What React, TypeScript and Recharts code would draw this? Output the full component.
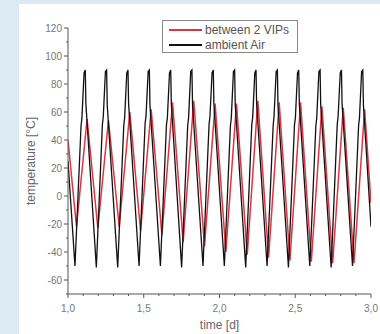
import React from 'react';
import { LineChart, Line, XAxis, YAxis, Legend } from 'recharts';

// ambient air (black) - time in days, temperature in °C
const ambientTime = [
  1.0, 1.046, 1.086, 1.092, 1.106, 1.114, 1.118,
  1.187, 1.227, 1.233, 1.247, 1.255, 1.259,
  1.328, 1.368, 1.374, 1.388, 1.396, 1.4,
  1.469, 1.509, 1.515, 1.529, 1.537, 1.541,
  1.61, 1.65, 1.656, 1.67, 1.678, 1.682,
  1.75, 1.79, 1.796, 1.81, 1.818, 1.822,
  1.891, 1.931, 1.937, 1.951, 1.959, 1.963,
  2.032, 2.072, 2.078, 2.092, 2.1, 2.104,
  2.173, 2.213, 2.219, 2.233, 2.241, 2.245,
  2.314, 2.354, 2.36, 2.374, 2.382, 2.386,
  2.455, 2.495, 2.501, 2.515, 2.523, 2.527,
  2.596, 2.636, 2.642, 2.656, 2.664, 2.668,
  2.737, 2.777, 2.783, 2.797, 2.805, 2.809,
  2.878, 2.918, 2.924, 2.938, 2.946, 2.95,
  3.0,
];
const ambientTemp = [
  25, -50, 50, 56, 88, 90, 66,
  -51, 51, 57, 89, 90, 65,
  -51, 50, 56, 88, 90, 66,
  -50, 52, 57, 89, 90, 65,
  -50, 51, 56, 88, 90, 66,
  -51, 50, 56, 89, 90, 65,
  -50, 51, 57, 88, 90, 66,
  -50, 50, 56, 89, 90, 65,
  -51, 51, 56, 88, 90, 66,
  -50, 50, 57, 89, 90, 65,
  -51, 51, 56, 88, 90, 66,
  -50, 50, 56, 89, 90, 65,
  -51, 51, 57, 88, 90, 66,
  -50, 50, 56, 89, 90, 65,
  -22,
];

// between 2 VIPs (red)
const vipTime = [
  1.0, 1.056, 1.126, 1.197, 1.267, 1.338, 1.408, 1.479, 1.549, 1.62, 1.69,
  1.76, 1.83, 1.901, 1.971, 2.042, 2.112, 2.183, 2.253, 2.324, 2.394,
  2.465, 2.535, 2.606, 2.676, 2.747, 2.817, 2.888, 2.958, 3.0,
];
const vipTemp = [
  40, -22, 55, -23, 54, -22, 60, -25, 62, -28, 67,
  -33, 68, -36, 66, -40, 66, -42, 68, -44, 67,
  -46, 67, -47, 64, -48, 63, -48, 62, -5,
];

const seriesNames = ['between 2 VIPs', 'ambient Air'];
const seriesColors = ['#e2333f', '#111111'];

const xTicks = [
  1.0, 1.1, 1.2, 1.3, 1.4, 1.5, 1.6, 1.7, 1.8, 1.9, 2.0,
  2.1, 2.2, 2.3, 2.4, 2.5, 2.6, 2.7, 2.8, 2.9, 3.0,
];
const yTicks = [-70, -60, -50, -40, -30, -20, -10, 0, 10, 20, 30, 40, 50, 60, 70, 80, 90, 100, 110, 120];

const ambientData = ambientTime.map((t, i) => ({ t, v: ambientTemp[i] }));
const vipData = vipTime.map((t, i) => ({ t, v: vipTemp[i] }));

const FONT = '"Liberation Sans", Arial, sans-serif';
const AXIS = '#555';

// y ticks: long ones with labels every 20, short ones between
const YTick = (props: any) => {
  const { x, y, payload } = props;
  const major = payload.value % 20 === 0;
  return (
    <g>
      <line x1={x - (major ? 4 : 2)} x2={x} y1={y} y2={y} stroke={AXIS} />
      {major && (
        <text x={x - 6} y={y} dy={3.5} textAnchor="end" fontSize={10} fill="#777" fontFamily={FONT}>
          {payload.value}
        </text>
      )}
    </g>
  );
};

const XTick = (props: any) => {
  const { x, y, payload } = props;
  const v = payload.value;
  const major = Math.abs(v * 2 - Math.round(v * 2)) < 1e-6;
  return (
    <g>
      <line x1={x} x2={x} y1={y} y2={y + (major ? 4 : 2)} stroke={AXIS} />
      {major && (
        <text x={x} y={y + 18} textAnchor="middle" fontSize={10} fill="#777" fontFamily={FONT}>
          {v.toFixed(1).replace('.', ',')}
        </text>
      )}
    </g>
  );
};

const LegendBox = () => (
  <div
    style={{
      width: 134,
      height: 31,
      border: '1px solid #888',
      background: '#fff',
      fontFamily: FONT,
      fontSize: 12,
      color: '#555',
      boxSizing: 'content-box',
    }}
  >
    {seriesNames.map((name, i) => (
      <div key={name} style={{ display: 'flex', alignItems: 'center', height: 15, marginTop: i === 0 ? 1 : 0 }}>
        <span style={{ display: 'inline-block', width: 33, height: 2, background: seriesColors[i], marginLeft: 6, marginRight: 3 }} />
        <span>{name}</span>
      </div>
    ))}
  </div>
);

export default function App() {
  return (
    <div style={{ position: 'absolute', left: 0, top: 0, width: 380, height: 334, background: '#dcebf1', overflow: 'hidden' }}>
      <div style={{ position: 'absolute', left: 19, top: 4, right: 0, bottom: 0, background: '#fff' }} />
      <div style={{ position: 'absolute', left: 0, top: 0 }}>
        <LineChart width={380} height={334} margin={{ top: 28, right: 9, bottom: 14, left: 40 }}>
          <XAxis
            type="number"
            dataKey="t"
            domain={[1, 3]}
            ticks={xTicks}
            interval={0}
            allowDataOverflow
            height={26}
            tickSize={0}
            tickMargin={0}
            tickLine={false}
            tick={<XTick />}
            axisLine={{ stroke: AXIS }}
            label={{ value: 'time [d]', position: 'bottom', offset: 0, fontSize: 12, fill: '#666', fontFamily: FONT }}
          />
          <YAxis
            type="number"
            domain={[-70, 120]}
            ticks={yTicks}
            interval={0}
            allowDataOverflow
            width={28}
            tickSize={0}
            tickMargin={0}
            tickLine={false}
            tick={<YTick />}
            axisLine={{ stroke: AXIS }}
            label={{
              value: 'temperature [°C]',
              angle: -90,
              position: 'left',
              offset: 9,
              fontSize: 12,
              fill: '#666',
              fontFamily: FONT,
              style: { textAnchor: 'middle' },
            }}
          />
          <Line
            data={vipData}
            dataKey="v"
            name={seriesNames[0]}
            type="linear"
            stroke={seriesColors[0]}
            strokeWidth={1.5}
            dot={false}
            isAnimationActive={false}
          />
          <Line
            data={ambientData}
            dataKey="v"
            name={seriesNames[1]}
            type="linear"
            stroke={seriesColors[1]}
            strokeWidth={1.3}
            dot={false}
            isAnimationActive={false}
          />
          <Legend
            layout="vertical"
            align="center"
            verticalAlign="middle"
            content={<LegendBox />}
            wrapperStyle={{ left: 162, top: 20, width: 136, height: 33 }}
          />
        </LineChart>
      </div>
    </div>
  );
}
